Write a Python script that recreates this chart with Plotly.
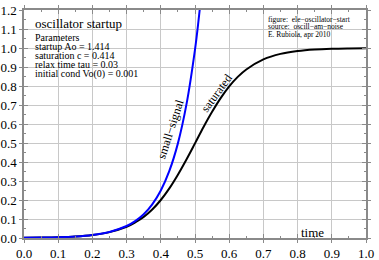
import plotly.graph_objects as go

# time samples
t_sat = [0.0, 0.05, 0.1, 0.15, 0.2, 0.25, 0.3, 0.325, 0.35, 0.375, 0.4, 0.425, 0.45,
         0.475, 0.5, 0.525, 0.55, 0.575, 0.6, 0.625, 0.65, 0.7, 0.75, 0.8, 0.85, 0.9, 0.95, 1.0]
v_sat = [0.001, 0.002, 0.004, 0.008, 0.016, 0.031, 0.059, 0.082, 0.111, 0.150, 0.200, 0.261, 0.333,
         0.413, 0.498, 0.584, 0.664, 0.736, 0.798, 0.848, 0.887, 0.940, 0.969, 0.984, 0.992, 0.996, 0.998, 0.999]

t_small = [0.0, 0.05, 0.1, 0.15, 0.2, 0.25, 0.3, 0.325, 0.35, 0.375, 0.4, 0.425, 0.45,
           0.475, 0.5, 0.51, 0.52]
v_small = [0.001, 0.002, 0.004, 0.008, 0.016, 0.032, 0.063, 0.089, 0.125, 0.177, 0.250, 0.353, 0.498,
           0.703, 0.992, 1.14, 1.31]

title_text = "oscillator startup"
param_lines = ["Parameters", "startup Ao = 1.414", "saturation c = 0.414",
               "relax time tau = 0.03", "initial cond Vo(0) = 0.001"]
credit_lines = ["figure:  ele\u2212oscillator\u2212start", "source:  oscill\u2212am\u2212noise",
                "E. Rubiola, apr 2010"]

SERIF = "Liberation Serif, Times New Roman, serif"

fig = go.Figure()
fig.add_trace(go.Scatter(x=t_sat, y=v_sat, mode="lines", line=dict(color="black", width=2, shape="spline"),
                         showlegend=False, hoverinfo="skip"))
fig.add_trace(go.Scatter(x=t_small, y=v_small, mode="lines", line=dict(color="#0000ff", width=2, shape="spline"),
                         showlegend=False, hoverinfo="skip"))
# empty trace to materialise the overlay axes (inner ticks)
fig.add_trace(go.Scatter(x=[], y=[], xaxis="x2", yaxis="y2", showlegend=False, hoverinfo="skip"))

axcol = "#8a8a8a"
common = dict(showline=True, linecolor=axcol, linewidth=1.5, mirror="ticks", ticks="outside",
              ticklen=3, tickcolor=axcol, tickwidth=1, showgrid=True, gridcolor="#c8c8c8", gridwidth=1,
              zeroline=False, automargin=False, tickfont=dict(family=SERIF, size=13, color="black"))
fig.update_layout(
    width=379, height=260,
    margin=dict(l=24, r=13, t=10, b=22),
    paper_bgcolor="white", plot_bgcolor="white",
    xaxis=dict(range=[0, 1], dtick=0.1, tickformat=".1f", **common),
    yaxis=dict(range=[0, 1.2], dtick=0.1, tickformat=".1f", **common),
    xaxis2=dict(range=[0, 1], overlaying="x", anchor="y", dtick=0.1, ticks="inside", ticklen=4,
                tickcolor=axcol, mirror="ticks", showticklabels=False, showgrid=False, showline=False,
                zeroline=False, automargin=False,
                minor=dict(dtick=0.05, ticks="inside", ticklen=2, tickcolor=axcol)),
    yaxis2=dict(range=[0, 1.2], overlaying="y", anchor="x", dtick=0.1, ticks="inside", ticklen=4,
                tickcolor=axcol, mirror="ticks", showticklabels=False, showgrid=False, showline=False,
                zeroline=False, automargin=False,
                minor=dict(dtick=0.05, ticks="inside", ticklen=2, tickcolor=axcol)),
)

ann = []
ann.append(dict(x=0.029, y=1.129, text=title_text, xanchor="left", yanchor="middle",
                font=dict(family=SERIF, size=13, color="black")))
for line, yy in zip(param_lines, [1.0575, 1.008, 0.960, 0.911, 0.862]):
    ann.append(dict(x=0.029, y=yy, text=line, xanchor="left", yanchor="middle",
                    font=dict(family=SERIF, size=10, color="black")))
for line, yy in zip(credit_lines, [1.152, 1.113, 1.073]):
    ann.append(dict(x=0.7095, y=yy, text=line, xanchor="left", yanchor="middle",
                    font=dict(family=SERIF, size=7.5, color="black")))
ann.append(dict(x=0.429, y=0.572, text="small\u2212signal", textangle=-72, xanchor="center", yanchor="middle",
                font=dict(family=SERIF, size=12, color="black")))
ann.append(dict(x=0.5635, y=0.762, text="saturated", textangle=-54, xanchor="center", yanchor="middle",
                font=dict(family=SERIF, size=12, color="black")))
ann.append(dict(x=0.845, y=0.028, text="time", xanchor="center", yanchor="middle",
                font=dict(family=SERIF, size=13, color="black")))
for a in ann:
    a.update(xref="x", yref="y", showarrow=False, borderpad=0)
fig.update_layout(annotations=ann)

fig.write_html("out.html", config={"displayModeBar": False},
               post_script="document.body.style.margin='0';document.body.style.overflow='hidden';")
